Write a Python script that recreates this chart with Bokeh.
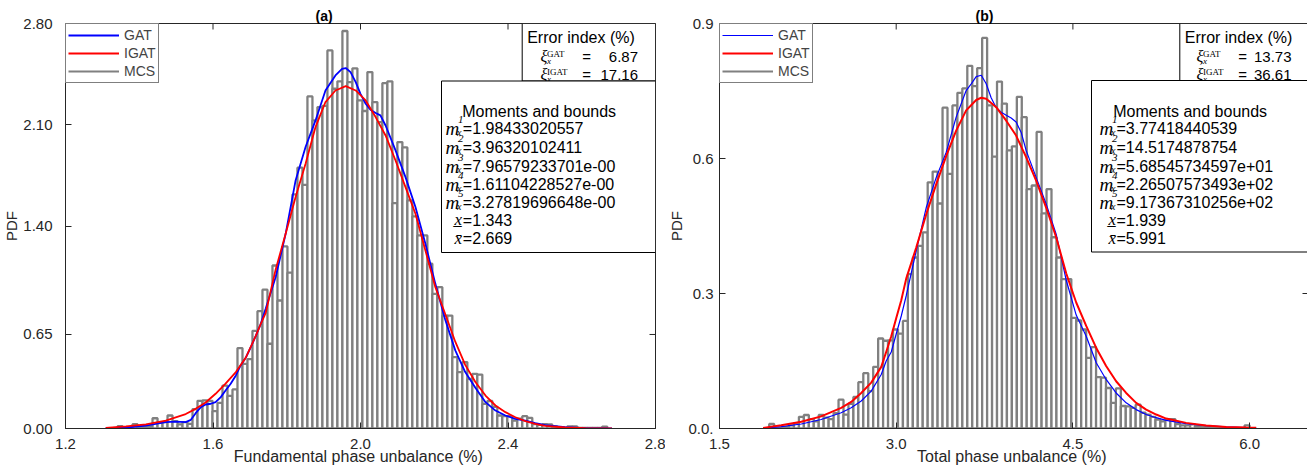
import numpy as np
from bokeh.plotting import figure
from bokeh.models import (Range1d, FixedTicker, Legend, LegendItem,
                          BoxAnnotation, Label, NumeralTickFormatter)
from bokeh.layouts import row
from bokeh.embed import file_html
from bokeh.resources import INLINE

SANS = "Liberation Sans"
SERIF = "Liberation Serif"
AXC = "#262626"
GRAY = "#808080"

# ------------------------------------------------------------------ panel (a)
a_title = "(a)"
a_xlabel = "Fundamental phase unbalance  (%)"
a_xticks = [1.2, 1.6, 2.0, 2.4, 2.8]
a_yticks = [0.0, 0.65, 1.40, 2.10, 2.80]
a_bin_start = 1.3412
a_bin_width = 0.01355
a_mcs = [0.016, 0.005, 0.005, 0.030, 0.016, 0.009, 0.014, 0.071, 0.039, 0.044,
         0.090, 0.051, 0.028, 0.044, 0.032, 0.134, 0.191, 0.194, 0.191, 0.120,
         0.177, 0.297, 0.226, 0.270, 0.556, 0.447, 0.480, 0.675, 0.811, 0.960,
         0.586, 1.127, 0.885, 1.259, 1.077, 1.618, 1.803, 1.685, 2.296, 2.130,
         2.222, 2.230, 2.614, 2.349, 2.400, 2.748, 2.395, 2.490, 2.268, 2.195,
         2.464, 2.257, 2.118, 2.388, 2.400, 1.558, 1.980, 1.943, 1.577, 1.466,
         1.335, 1.335, 1.139, 0.931, 0.977, 0.781, 0.781, 0.493, 0.390, 0.459,
         0.343, 0.378, 0.373, 0.170, 0.190, 0.150, 0.090, 0.085, 0.085, 0.055,
         0.068, 0.085, 0.074, 0.030, 0.025, 0.030, 0.028, 0.014, 0.009, 0.005,
         0.014, 0.014, 0.005, 0.005, 0.005, 0.005, 0.005, 0.013]
a_gat_x = [1.309, 1.364, 1.418, 1.445, 1.472, 1.499, 1.526, 1.540, 1.553, 1.567,
           1.580, 1.594, 1.607, 1.621, 1.634, 1.648, 1.662, 1.675, 1.689, 1.702,
           1.716, 1.729, 1.743, 1.770, 1.797, 1.824, 1.851, 1.878, 1.905, 1.932,
           1.950, 1.960, 1.973, 1.987, 2.000, 2.014, 2.027, 2.041, 2.054, 2.068,
           2.095, 2.122, 2.149, 2.176, 2.203, 2.230, 2.257, 2.284, 2.312, 2.339,
           2.366, 2.393, 2.420, 2.447, 2.474, 2.501, 2.555, 2.610, 2.682]
a_gat_y = [0.002, 0.007, 0.020, 0.032, 0.044, 0.048, 0.044, 0.060, 0.106, 0.148,
           0.166, 0.171, 0.182, 0.217, 0.263, 0.309, 0.367, 0.436, 0.490, 0.560,
           0.640, 0.720, 0.830, 1.047, 1.346, 1.715, 1.946, 2.130, 2.337, 2.441,
           2.487, 2.492, 2.464, 2.395, 2.314, 2.245, 2.204, 2.181, 2.165, 2.095,
           1.923, 1.738, 1.531, 1.277, 1.000, 0.750, 0.540, 0.390, 0.280, 0.182,
           0.124, 0.090, 0.067, 0.055, 0.037, 0.023, 0.009, 0.002, 0.000]
a_igat_x = [1.309, 1.364, 1.418, 1.472, 1.526, 1.553, 1.580, 1.607, 1.634, 1.662,
            1.689, 1.716, 1.729, 1.743, 1.770, 1.797, 1.824, 1.851, 1.878, 1.905,
            1.932, 1.960, 1.987, 2.014, 2.041, 2.068, 2.095, 2.122, 2.149, 2.176,
            2.203, 2.230, 2.257, 2.284, 2.312, 2.339, 2.366, 2.393, 2.420, 2.447,
            2.474, 2.501, 2.555, 2.610, 2.682]
a_igat_y = [0.005, 0.014, 0.028, 0.055, 0.100, 0.136, 0.180, 0.240, 0.310, 0.390,
            0.490, 0.640, 0.720, 0.800, 1.100, 1.346, 1.600, 1.830, 2.084, 2.257,
            2.337, 2.367, 2.337, 2.268, 2.153, 2.026, 1.853, 1.669, 1.485, 1.231,
            0.977, 0.790, 0.600, 0.440, 0.320, 0.228, 0.159, 0.113, 0.078, 0.051,
            0.032, 0.018, 0.007, 0.002, 0.000]
a_error_vals = ["6.87", "17.16"]
a_moments = ["=1.98433020557", "=3.96320102411", "=7.96579233701e-00",
             "=1.61104228527e-00", "=3.27819696648e-00", "=1.343", "=2.669"]

# ------------------------------------------------------------------ panel (b)
b_title = "(b)"
b_xlabel = "Total phase unbalance  (%)"
b_xticks = [1.5, 3.0, 4.5, 6.0]
b_yticks = [0.0, 0.3, 0.6, 0.9]
b_bin_start = 1.922
b_bin_width = 0.04204
b_mcs = [0.010, 0.001, 0.001, 0.003, 0.007, 0.012, 0.026, 0.030, 0.021, 0.016,
         0.030, 0.024, 0.021, 0.034, 0.064, 0.031, 0.055, 0.070, 0.103, 0.123,
         0.083, 0.137, 0.200, 0.195, 0.196, 0.220, 0.211, 0.239, 0.343, 0.380,
         0.406, 0.436, 0.547, 0.571, 0.500, 0.713, 0.566, 0.718, 0.746, 0.756,
         0.806, 0.761, 0.801, 0.868, 0.718, 0.604, 0.771, 0.722, 0.618, 0.627,
         0.737, 0.692, 0.532, 0.540, 0.659, 0.478, 0.532, 0.425, 0.380, 0.332,
         0.332, 0.246, 0.240, 0.220, 0.157, 0.181, 0.114, 0.113, 0.090, 0.057,
         0.089, 0.050, 0.049, 0.046, 0.053, 0.035, 0.031, 0.026, 0.020, 0.016,
         0.021, 0.021, 0.010, 0.007, 0.007, 0.009, 0.005, 0.004, 0.005, 0.002,
         0.002, 0.001, 0.001, 0.001, 0.001, 0.001, 0.007]
b_gat_x = [1.870, 2.024, 2.194, 2.363, 2.533, 2.618, 2.703, 2.788, 2.873, 2.915,
           2.958, 3.000, 3.043, 3.085, 3.170, 3.255, 3.340, 3.425, 3.509, 3.594,
           3.637, 3.679, 3.722, 3.764, 3.806, 3.849, 3.891, 3.934, 3.976, 4.018,
           4.061, 4.103, 4.188, 4.273, 4.358, 4.443, 4.528, 4.613, 4.698, 4.782,
           4.867, 4.952, 5.037, 5.122, 5.207, 5.292, 5.461, 5.631, 5.801, 5.971,
           6.056]
b_gat_y = [0.001, 0.004, 0.010, 0.020, 0.035, 0.046, 0.061, 0.083, 0.120, 0.150,
           0.170, 0.210, 0.250, 0.295, 0.395, 0.491, 0.558, 0.614, 0.692, 0.751,
           0.766, 0.782, 0.785, 0.766, 0.735, 0.713, 0.703, 0.696, 0.690, 0.681,
           0.658, 0.618, 0.558, 0.499, 0.432, 0.330, 0.252, 0.205, 0.146, 0.109,
           0.079, 0.057, 0.042, 0.031, 0.024, 0.018, 0.011, 0.0066, 0.0036, 0.002,
           0.0014]
b_igat_x = [1.870, 2.024, 2.194, 2.363, 2.533, 2.618, 2.703, 2.788, 2.873, 2.915,
            2.958, 3.000, 3.043, 3.085, 3.170, 3.255, 3.340, 3.425, 3.509, 3.594,
            3.679, 3.722, 3.764, 3.849, 3.934, 4.018, 4.103, 4.188, 4.273, 4.358,
            4.443, 4.528, 4.613, 4.698, 4.782, 4.867, 4.952, 5.037, 5.122, 5.207,
            5.292, 5.461, 5.631, 5.801, 5.971, 6.056]
b_igat_y = [0.0014, 0.007, 0.015, 0.027, 0.046, 0.059, 0.079, 0.102, 0.137, 0.170,
            0.205, 0.245, 0.285, 0.333, 0.402, 0.476, 0.543, 0.606, 0.662, 0.707,
            0.730, 0.735, 0.733, 0.714, 0.684, 0.651, 0.603, 0.551, 0.491, 0.425,
            0.345, 0.280, 0.228, 0.179, 0.139, 0.105, 0.079, 0.057, 0.042, 0.031,
            0.022, 0.0125, 0.0066, 0.0036, 0.002, 0.0014]
b_error_vals = ["13.73", "36.61"]
b_moments = ["=3.77418440539", "=14.5174878754", "=5.68545734597e+01",
             "=2.26507573493e+02", "=9.17367310256e+02", "=1.939", "=5.991"]

series_labels = ["GAT", "IGAT", "MCS"]
error_names = ["GAT", "IGAT"]


def style_axis(ax, ticks, size, standoff):
    ax.ticker = FixedTicker(ticks=ticks)
    ax.major_tick_in = 6
    ax.major_tick_out = 0
    ax.minor_tick_line_color = None
    ax.axis_line_color = AXC
    ax.major_tick_line_color = AXC
    ax.major_label_text_color = AXC
    ax.major_label_text_font = SANS
    ax.major_label_text_font_size = size
    ax.major_label_standoff = standoff
    ax.axis_label_text_font = SANS
    ax.axis_label_text_font_style = "normal"
    ax.axis_label_text_color = AXC


def make_panel(c):
    L, T, W, H = c["frame"]
    x0, x1 = c["xr"]
    y0, y1 = c["yr"]

    def X(px):
        return x0 + (px - L) * (x1 - x0) / W

    def Y(py):
        return y1 - (py - T) * (y1 - y0) / H

    p = figure(frame_width=W, frame_height=H, x_range=Range1d(x0, x1), y_range=Range1d(y0, y1),
               min_border_left=c["mbl"], min_border_right=c["mbr"], min_border_top=T,
               min_border_bottom=468 - T - H, output_backend="svg", toolbar_location=None,
               title=c["title"])
    p.xgrid.visible = False
    p.ygrid.visible = False
    p.outline_line_color = AXC
    p.background_fill_color = "white"
    p.border_fill_color = "white"
    p.title.align = "left"
    p.title.offset = c["title_off"]
    p.title.standoff = 0
    p.title.text_font = SANS
    p.title.text_font_size = "14px"
    p.title.text_font_style = "bold"
    p.title.text_color = "black"

    mcs = c["mcs"]
    edges = c["bin_start"] + c["bin_width"] * np.arange(len(mcs) + 1)
    p.quad(left=edges[:-1], right=edges[1:], bottom=0, top=mcs,
           fill_color="white", line_color=GRAY, line_width=2.3)
    g = p.line(c["gx"], c["gy"], line_color="#0000ff", line_width=c["gw"])
    r = p.line(c["ix"], c["iy"], line_color="#ff0000", line_width=c["iw"])
    proxy = p.line(x=np.array([np.nan]), y=np.array([np.nan]), line_color=GRAY, line_width=2.2)

    # inward ticks on the top and right edges of the box
    xt, yt = c["xticks"], c["yticks"]
    ddy = 6 * (y1 - y0) / H
    ddx = 6 * (x1 - x0) / W
    p.segment(x0=xt, y0=[y1] * len(xt), x1=xt, y1=[y1 - ddy] * len(xt), line_color=AXC, line_width=1)
    p.segment(x0=[x1] * len(yt), y0=yt, x1=[x1 - ddx] * len(yt), y1=yt, line_color=AXC, line_width=1)

    xa = p.xaxis[0]
    style_axis(xa, xt, "15px", 10)
    xa.formatter = NumeralTickFormatter(format="0.0")
    xa.axis_label = c["xlabel"]
    xa.axis_label_text_font_size = "16px"
    xa.axis_label_standoff = -4
    ya = p.yaxis[0]
    style_axis(ya, yt, "15px", c["ystand"])
    ya.formatter = NumeralTickFormatter(format=c["yfmt"])
    if c.get("yover"):
        ya.major_label_overrides = c["yover"]
    ya.axis_label = "PDF"
    ya.axis_label_text_font_size = "15px"
    ya.axis_label_standoff = 0

    legend = Legend(items=[LegendItem(label=series_labels[0], renderers=[g]),
                           LegendItem(label=series_labels[1], renderers=[r]),
                           LegendItem(label=series_labels[2], renderers=[proxy])],
                    location="top_left", margin=0, padding=2, spacing=0,
                    glyph_width=51, glyph_height=18, label_height=18, label_standoff=5,
                    label_text_font=SANS, label_text_font_size="14px",
                    border_line_color="black", border_line_width=1,
                    background_fill_color="white", background_fill_alpha=1.0)
    p.add_layout(legend)

    def txt(px, py, s, font=SANS, size="16px", style="normal", align="left"):
        p.add_layout(Label(x=X(px), y=Y(py), text=s, text_font=font, text_font_size=size,
                           text_font_style=style, text_align=align,
                           text_baseline="alphabetic", text_color="black"))

    # error index box
    eb = c["err_box"]
    p.add_layout(BoxAnnotation(left=X(eb[0]), right=X(eb[1]), top=Y(eb[2]), bottom=Y(eb[3]),
                               fill_color="white", fill_alpha=1.0, line_color="black",
                               line_width=1, line_alpha=1.0))
    ex = c["err_x"]
    txt(ex[0], 36.5, "Error index (%)", size="16px")
    for k, (nm, val) in enumerate(zip(error_names, c["err_vals"])):
        base = 56 + 18 * k
        txt(ex[1], base, "\u03be", font=SERIF, size="16px", style="italic")
        txt(ex[1] + 6.5, base - 3, nm, font=SERIF, size="9px")
        txt(ex[1] + 6.5, base + 4, "x", font=SERIF, size="9px", style="italic")
        txt(ex[2], base, "=", size="15px")
        txt(ex[3], base, val, size="15px", align="right")

    # moments box
    mb = c["mom_box"]
    p.add_layout(BoxAnnotation(left=X(mb[0]), right=X(mb[1]), top=Y(mb[2]), bottom=Y(mb[3]),
                               fill_color="white", fill_alpha=1.0, line_color="black",
                               line_width=1, line_alpha=1.0))
    mx = c["mom_x"]
    txt(mx[0], 110.7, "Moments and bounds", size="16px")
    bases = [128.3, 146.7, 165.7, 184.0, 202.3, 220.0, 238.3]
    for k, s in enumerate(c["moments"]):
        b = bases[k]
        if k < 5:
            txt(mx[1] - 1, b, "m", font=SERIF, size="19px", style="italic")
            txt(mx[1] + 11.5, b - 9, str(k + 1), font=SERIF, size="11px", style="italic")
            txt(mx[1] + 10.5, b + 3.5, "x", font=SERIF, size="10px", style="italic")
        elif k == 5:
            txt(mx[1] + 8, b - 1, "x\u0332", font=SERIF, size="17px", style="italic")
        else:
            txt(mx[1] + 8, b, "x\u0304", font=SERIF, size="17px", style="italic")
        txt(mx[2], b, s, size="16px")
    return p


cfg_a = dict(frame=(60, 23, 590, 405), xr=(1.2, 2.8), yr=(0.0, 2.8), mbl=60, mbr=10,
             xticks=a_xticks, yticks=a_yticks, yfmt="0.00", ystand=13,
             mcs=a_mcs, bin_start=a_bin_start, bin_width=a_bin_width,
             gx=a_gat_x, gy=a_gat_y, ix=a_igat_x, iy=a_igat_y, gw=1.8, iw=1.8,
             xlabel=a_xlabel, title=a_title, title_off=250,
             err_box=(516.7, 650, 23, 80.5), err_x=(521.7, 535, 576.7, 632.5), err_vals=a_error_vals,
             mom_box=(436, 650, 80.5, 252), mom_x=(456.7, 441, 457.3), moments=a_moments)

cfg_b = dict(frame=(713, 23, 589, 405), xr=(1.5, 6.5), yr=(0.0, 0.9), mbl=53, mbr=5,
             xticks=b_xticks, yticks=b_yticks, yfmt="0.0", ystand=6, yover={0: "0.0."},
             mcs=b_mcs, bin_start=b_bin_start, bin_width=b_bin_width,
             gx=b_gat_x, gy=b_gat_y, ix=b_igat_x, iy=b_igat_y, gw=1.2, iw=2.0,
             xlabel=b_xlabel, title=b_title, title_off=256,
             err_box=(1173.3, 1302, 23, 80), err_x=(1178.3, 1190, 1231.7, 1285), err_vals=b_error_vals,
             mom_box=(1085, 1302, 80, 251.5), mom_x=(1106.7, 1094, 1110), moments=b_moments)

pa = make_panel(cfg_a)
pb = make_panel(cfg_b)
layout = row(pa, pb, spacing=0)
open("out.html", "w").write(file_html(layout, INLINE))
